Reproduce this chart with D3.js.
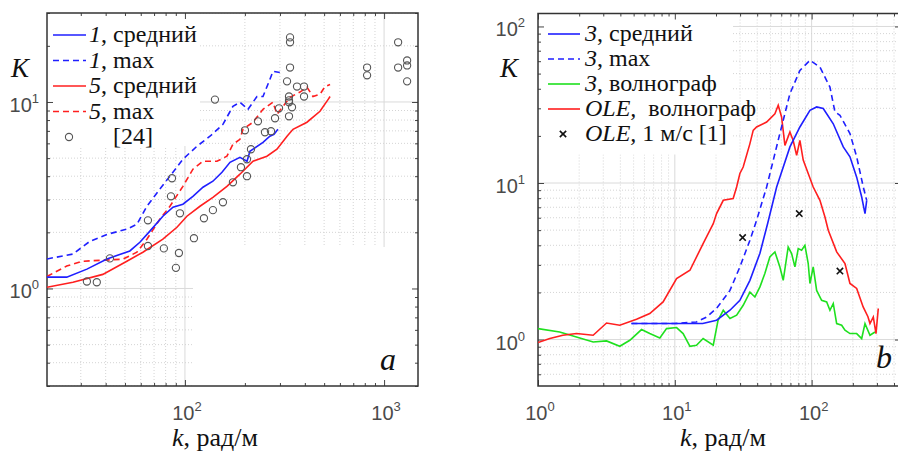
<!DOCTYPE html>
<html><head><meta charset="utf-8">
<script src="https://cdn.jsdelivr.net/npm/d3@7"></script>
<style>
@font-face{font-family:"ChartSerif";src:local("Liberation Serif"),local("LiberationSerif"),local("Times New Roman");font-style:normal;font-weight:400}
@font-face{font-family:"ChartSerif";src:local("Liberation Serif Italic"),local("LiberationSerif-Italic"),local("Times New Roman Italic");font-style:italic;font-weight:400}
</style>
</head><body style="margin:0">
<svg id="c" width="898" height="454" style="background:#fff"></svg>
<script>
// ---------- DATA ----------
// Panel a: k (rad/m) vs K
const a_series1Mean = [[20.3,1.15],[25.5,1.15],[32.2,1.27],[40.6,1.44],[52.9,1.59],[59.4,1.77],[66.7,2.03],[77.5,2.44],[87.1,2.73],[97.7,2.83],[109.7,3.12],[123.2,3.49],[138.2,3.76],[153.5,4.2],[168.4,4.75],[188.9,5.05],[205,4.81],[212,5.44],[246.6,6.08],[267,6.55],[280,6.7],[293,7.14]];
const a_series1Max = [[20.3,1.44],[27.4,1.53],[33.3,1.79],[40.6,1.95],[51.1,2.08],[57.4,2.21],[64.4,2.76],[74.8,3.41],[87.1,4.2],[97.7,4.93],[114.9,5.79],[133.6,6.55],[155.2,7.59],[174.2,9.48],[188.9,9.96],[207.4,9.14],[230,10.7],[246.6,10.7],[267,13.2],[276.6,14.6],[299.6,14.4]];
const a_series5Mean = [[20.3,1.016],[27.4,1.08],[38.7,1.19],[51.1,1.40],[61.5,1.565],[77.5,1.837],[91.2,2.13],[102.3,2.44],[119,2.76],[138.2,3.08],[162.5,3.53],[188.9,4.10],[219.7,4.81],[258,5.12],[289.8,5.58],[325.6,6.55],[348.9,7.14],[410,7.79],[476.6,8.92],[523,10.3],[535.5,10.7]];
const a_series5Max = [[20.3,1.16],[25.5,1.32],[30.7,1.40],[48.8,1.436],[57.4,1.565],[64.4,1.837],[74.8,2.35],[84.1,2.76],[97.7,3.53],[109.7,4.36],[123.2,4.81],[144.8,4.81],[162.5,5.12],[174.2,5.93],[188.9,6.31],[195.7,7.14],[219.7,7.79],[246.6,9.14],[276.6,9.96],[290,8.59],[310.9,9.48],[337,10.6],[378,11.3],[410,12.0],[439.5,10.7],[476.6,11.0],[505,12.1],[535.5,12.4]];
const a_ref24 = [[32.2,1.09],[36.1,1.08],[42.0,1.45],[65.2,2.32],[65.2,1.69],[78.4,1.64],[86.1,3.90],[85.1,3.12],[94.4,2.53],[93.3,1.55],[90.1,1.29],[111,1.86],[124.6,2.38],[138.2,2.63],[155.2,2.90],[174.2,3.71],[191.1,4.47],[204.9,4.00],[204.9,4.93],[214.6,5.58],[200.2,7.05],[232.7,7.88],[252.3,6.88],[270.5,6.97],[283.4,8.18],[296.8,9.25],[333.1,8.38],[344.9,9.37],[333.1,9.96],[333.1,10.7],[333.1,10.2],[325.6,12.9],[365.4,12.1],[396.3,12.1],[396.3,10.7],[337.1,15.3],[337.1,20.9],[337.1,22.2],[141.5,10.3],[821.5,15.3],[821.5,13.9],[1176,20.9],[1176,15.3],[1305,16.7],[1305,15.7],[1305,12.9]];

// Panel b
const b_series3Mean = [[4.82,1.265],[10,1.265],[16.0,1.265],[20.2,1.33],[25.3,1.54],[29.9,1.78],[35.4,2.39],[41.9,3.56],[47.9,5.6],[55.5,9.43],[69.4,17.0],[82.1,22.8],[97.2,29.1],[108.8,30.6],[121.6,29.9],[143.9,23.9],[170.3,17.0],[190.6,14.7],[213.4,10.9],[232.2,8.14],[245.5,6.38],[252.7,7.75]];
const b_series3Max = [[4.82,1.265],[10,1.265],[14.4,1.296],[17.1,1.394],[20.2,1.585],[25.3,2.06],[29.9,2.91],[35.4,4.31],[39.6,5.78],[46.9,9.43],[58.6,20.7],[69.4,37.2],[82.1,52.4],[97.2,60.8],[115,55.0],[136.1,41.0],[148.1,28.4],[161,27.1],[190.6,20.7],[213.4,14.7],[238.5,9.43],[252.7,7.75]];
const b_series3Wave = [[1.0,1.175],[1.44,1.118],[1.91,1.039],[2.53,0.965],[3.17,0.98],[3.96,0.906],[4.69,0.99],[5.71,1.158],[6.56,1.092],[7.77,1.024],[8.70,1.175],[10.3,1.193],[11.5,1.092],[12.9,0.906],[14.4,0.92],[16.1,1.015],[19.1,0.92],[20.7,1.328],[22.6,1.538],[25.3,1.362],[28.3,1.43],[31.6,1.656],[35.4,2.01],[38.5,1.871],[41.9,2.17],[45.5,2.64],[49.5,3.37],[53.9,3.63],[58.6,2.91],[62.0,2.39],[67.4,3.90],[71.4,3.54],[75.5,2.91],[79.8,3.81],[84.5,3.72],[89.3,4.00],[94.4,3.06],[97.2,2.28],[102.7,2.91],[108.8,2.06],[118.3,1.78],[128.8,1.739],[136.1,1.538],[143.9,1.70],[152.4,1.265],[165.8,1.234],[175.3,1.147],[190.6,1.092],[213.4,1.092],[232.2,1.015],[245.5,1.265],[267,1.065],[290.4,1.118]];
const b_oleWave = [[1.0,0.957],[1.22,1.015],[1.52,1.065],[1.91,1.092],[2.53,1.065],[3.17,1.276],[3.96,1.234],[5.25,1.348],[6.56,1.466],[8.21,1.739],[10.3,2.45],[12.9,2.77],[16.1,4.10],[19.1,5.50],[20.2,6.38],[22.6,7.75],[26.7,7.95],[28.3,9.43],[29.9,11.5],[31.6,12.65],[35.4,17.85],[37.4,21.7],[39.6,22.8],[46.9,24.5],[53.9,27.7],[57.0,31.4],[60.3,26.4],[63.8,17.4],[69.4,21.2],[73.3,18.7],[77.7,15.0],[82.1,18.7],[86.8,14.0],[102.7,9.43],[115,7.75],[125.1,6.07],[132.3,4.99],[152.4,3.63],[175.3,3.06],[190.6,2.28],[213.4,2.12],[238,1.615],[258,1.4],[267,1.265],[282.3,1.394],[295.4,1.092],[307,1.578]];
const b_ole1ms = [[31.3,4.48],[81.2,6.38],[161,2.74]];

// Tick labels (exponents of 10)
const a_xTickExp = [2, 3];
const a_yTickExp = [0, 1];
const b_xTickExp = [0, 1, 2];
const b_yTickExp = [0, 1, 2];

const a_legend = [["1", ", средний"], ["1", ", max"], ["5", ", средний"], ["5", ", max"], ["", "[24]"]];
const b_legend = [["3", ", средний"], ["3", ", max"], ["3", ", волнограф"], ["OLE,", "\u00a0 волнограф"], ["OLE,", " 1 м/с [1]"]];

// ---------- DRAW ----------
const BLUE = "#1f1fff", RED = "#ff1f1f", GREEN = "#1fe01f";
const SERIF_STACK = '"Liberation Serif", "Times New Roman", ChartSerif, Tinos, "Nimbus Roman", FreeSerif, "DejaVu Serif", serif';
const svg = d3.select("#c");
const gfx = svg.append("g");

function stext(x, y, size, italic) {
  return svg.append("text").attr("x", x).attr("y", y)
    .attr("font-family", SERIF_STACK).style("font-family", SERIF_STACK)
    .style("font-size", size + "px")
    .style("font-style", italic ? "italic" : "normal").style("fill", "#111");
}

function panel(cfg) {
  const x = d3.scaleLog().domain(cfg.xd).range([cfg.x0, cfg.x1]);
  const y = d3.scaleLog().domain(cfg.yd).range([cfg.y1, cfg.y0]);
  const g = gfx.append("g");
  const clipId = "clip" + cfg.id;
  svg.append("clipPath").attr("id", clipId).append("rect")
    .attr("x", cfg.x0).attr("y", cfg.y0).attr("width", cfg.x1 - cfg.x0).attr("height", cfg.y1 - cfg.y0);

  const isMajor = v => Math.abs(Math.log10(v) - Math.round(Math.log10(v))) < 1e-6;
  const xt = x.ticks(), yt = y.ticks();
  const grid = g.append("g").attr("clip-path", `url(#${clipId})`);
  grid.selectAll(".vx").data(xt).join("line")
    .attr("x1", d => x(d)).attr("x2", d => x(d)).attr("y1", cfg.y0).attr("y2", cfg.y1)
    .attr("stroke", d => isMajor(d) ? "#dadada" : "#d4d4d4")
    .attr("stroke-dasharray", d => isMajor(d) ? null : "1,2").attr("stroke-width", 1);
  grid.selectAll(".hy").data(yt).join("line")
    .attr("y1", d => y(d)).attr("y2", d => y(d)).attr("x1", cfg.x0).attr("x2", cfg.x1)
    .attr("stroke", d => isMajor(d) ? "#dadada" : "#d4d4d4")
    .attr("stroke-dasharray", d => isMajor(d) ? null : "1,2").attr("stroke-width", 1);
  cfg.patches.forEach(p => grid.append("rect").attr("x", p[0]).attr("y", p[1]).attr("width", p[2]).attr("height", p[3]).attr("fill", "#fff"));

  const xMaj = xt.filter(isMajor), xMin = xt.filter(d => !isMajor(d));
  const yMaj = yt.filter(isMajor), yMin = yt.filter(d => !isMajor(d));
  const axes = g.append("g");
  const mk = (axisFn, sc, vals, len, tr) => {
    const a = axes.append("g").attr("transform", tr)
      .call(axisFn(sc).tickValues(vals).tickSize(-len).tickFormat(""));
    a.select(".domain").remove();
    a.selectAll("text").remove();
    a.selectAll("line").attr("stroke", "#444");
  };
  mk(d3.axisBottom, x, xMaj, 6, `translate(0,${cfg.y1})`);
  mk(d3.axisBottom, x, xMin, 3, `translate(0,${cfg.y1})`);
  mk(d3.axisTop, x, xMaj, 6, `translate(0,${cfg.y0})`);
  mk(d3.axisTop, x, xMin, 3, `translate(0,${cfg.y0})`);
  mk(d3.axisLeft, y, yMaj, 6, `translate(${cfg.x0},0)`);
  mk(d3.axisLeft, y, yMin, 3, `translate(${cfg.x0},0)`);
  mk(d3.axisRight, y, yMaj, 6, `translate(${cfg.x1},0)`);
  mk(d3.axisRight, y, yMin, 3, `translate(${cfg.x1},0)`);

  g.append("rect").attr("x", cfg.x0).attr("y", cfg.y0).attr("width", cfg.x1 - cfg.x0).attr("height", cfg.y1 - cfg.y0)
    .attr("fill", "none").attr("stroke", "#333").attr("stroke-width", 1.5);

  const lab = (px, py, e, anchor) => {
    const t = svg.append("text").attr("x", px).attr("y", py).attr("text-anchor", anchor)
      .attr("font-family", '"Liberation Sans", Arial, sans-serif')
      .style("font-family", '"Liberation Sans", Arial, sans-serif').style("font-size", "20px").style("fill", "#4a4a4a");
    t.append("tspan").text("10");
    t.append("tspan").attr("dy", -9).style("font-size", "13px").text(e);
  };
  cfg.xTickExp.forEach(e => lab(x(Math.pow(10, e)) + 2, cfg.xLabY, e, "middle"));
  cfg.yTickExp.forEach(e => lab(cfg.x0 - cfg.yLabGap, y(Math.pow(10, e)) + 10, e, "end"));

  stext(cfg.Kx, 77, 27, true).text("K");
  const kt = stext(cfg.kx, 446, 26, false);
  kt.append("tspan").style("font-style", "italic").text("k");
  kt.append("tspan").text(", рад/м");
  stext(cfg.letterX, cfg.letterY, 32, true).text(cfg.letter);

  const data = g.append("g").attr("clip-path", `url(#${clipId})`);
  return {x, y, g, data};
}

const line = (x, y) => d3.line().x(d => x(d[0])).y(d => y(d[1]));

// ---- Panel a ----
const A = panel({id: "a", xd: [20.3, 1480], yd: [0.3, 30], x0: 47, x1: 418, y0: 13, y1: 386,
  xTickExp: a_xTickExp, yTickExp: a_yTickExp, xLabY: 420, yLabGap: 8, Kx: 11, kx: 172,
  letter: "a", letterX: 380, letterY: 370,
  patches: [[47, 13, 153, 133], [193, 247, 226, 140]]});
{
  const {x, y, data} = A;
  const L = line(x, y);
  data.append("path").datum(a_series1Max).attr("d", L).attr("fill", "none").attr("stroke", BLUE).attr("stroke-width", 1.6).attr("stroke-dasharray", "6,4");
  data.append("path").datum(a_series5Max).attr("d", L).attr("fill", "none").attr("stroke", RED).attr("stroke-width", 1.6).attr("stroke-dasharray", "6,4");
  data.append("path").datum(a_series1Mean).attr("d", L).attr("fill", "none").attr("stroke", BLUE).attr("stroke-width", 1.6);
  data.append("path").datum(a_series5Mean).attr("d", L).attr("fill", "none").attr("stroke", RED).attr("stroke-width", 1.6);
  data.selectAll(".c24").data(a_ref24).join("circle").attr("cx", d => x(d[0])).attr("cy", d => y(d[1]))
    .attr("r", 3.6).attr("fill", "none").attr("stroke", "#555").attr("stroke-width", 1.1);
}
{
  const g = A.g;
  const styles = [[BLUE, null], [BLUE, "6,4"], [RED, null], [RED, "6,4"]];
  a_legend.forEach((it, i) => {
    const cy = 35 + 25.5 * i;
    if (i < 4) {
      g.append("line").attr("x1", 53).attr("x2", 86).attr("y1", cy).attr("y2", cy)
        .attr("stroke", styles[i][0]).attr("stroke-width", 1.6).attr("stroke-dasharray", styles[i][1]);
    } else {
      g.append("circle").attr("cx", 69).attr("cy", cy).attr("r", 3.6).attr("fill", "none").attr("stroke", "#555").attr("stroke-width", 1.1);
    }
    const t = stext(i < 4 ? 89 : 113, cy + 7, 24, false);
    if (it[0]) t.append("tspan").style("font-style", "italic").text(it[0]);
    t.append("tspan").text(it[1]);
  });
}

// ---- Panel b ----
const B = panel({id: "b", xd: [1, 450], yd: [0.505, 121], x0: 538, x1: 901, y0: 13.5, y1: 386,
  xTickExp: b_xTickExp, yTickExp: b_yTickExp, xLabY: 420, yLabGap: 13, Kx: 500, kx: 680,
  letter: "b", letterX: 876, letterY: 368,
  patches: [[538, 13.5, 195, 141]]});
{
  const {x, y, data} = B;
  const L = line(x, y);
  data.append("path").datum(b_series3Wave).attr("d", L).attr("fill", "none").attr("stroke", GREEN).attr("stroke-width", 1.6);
  data.append("path").datum(b_oleWave).attr("d", L).attr("fill", "none").attr("stroke", RED).attr("stroke-width", 1.6);
  data.append("path").datum(b_series3Max).attr("d", L).attr("fill", "none").attr("stroke", BLUE).attr("stroke-width", 1.6).attr("stroke-dasharray", "6,4");
  data.append("path").datum(b_series3Mean).attr("d", L).attr("fill", "none").attr("stroke", BLUE).attr("stroke-width", 1.6);
  data.selectAll(".xm").data(b_ole1ms).join("path")
    .attr("transform", d => `translate(${x(d[0])},${y(d[1])})`)
    .attr("d", d3.symbol(d3.symbolX, 28)).attr("fill", "none").attr("stroke", "#111").attr("stroke-width", 1.6);
}
{
  const g = B.g;
  const styles = [[BLUE, null], [BLUE, "6,4"], [GREEN, null], [RED, null]];
  b_legend.forEach((it, i) => {
    const cy = 34 + 25 * i;
    if (i < 4) {
      g.append("line").attr("x1", 548).attr("x2", 580).attr("y1", cy).attr("y2", cy)
        .attr("stroke", styles[i][0]).attr("stroke-width", 1.6).attr("stroke-dasharray", styles[i][1]);
    } else {
      g.append("path").attr("transform", `translate(563,${cy})`).attr("d", d3.symbol(d3.symbolX, 28))
        .attr("fill", "none").attr("stroke", "#111").attr("stroke-width", 1.6);
    }
    const t = stext(585, cy + 7, 24, false);
    t.append("tspan").style("font-style", "italic").text(it[0]);
    t.append("tspan").text(it[1]);
  });
}
</script>
</body></html>
